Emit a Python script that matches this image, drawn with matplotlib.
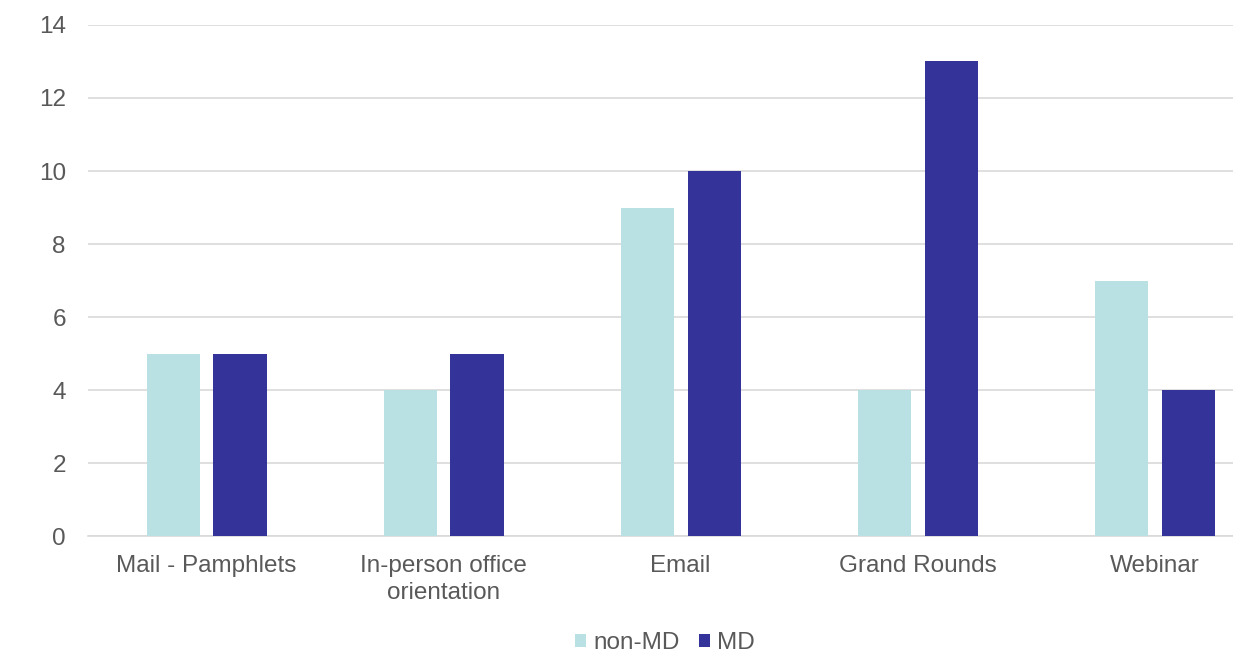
import matplotlib.pyplot as plt
import numpy as np

plt.rcParams['font.family'] = ['Liberation Sans', 'DejaVu Sans']

categories = ['Mail - Pamphlets', 'In-person office\norientation', 'Email', 'Grand Rounds', 'Webinar']
non_md = [5, 4, 9, 4, 7]
md = [5, 5, 10, 13, 4]

text_color = '#595959'
grid_color = '#D9D9D9'
fs = 17.5

fig = plt.figure(figsize=(12.33, 6.57), dpi=100)
ax = fig.add_axes([0.0714, 0.184, 0.9286, 0.778])

x = np.arange(len(categories))
width = 0.224
ax.bar(x - 0.141, non_md, width, color='#B9E0E3', label='non-MD', zorder=3)
ax.bar(x + 0.141, md, width, color='#333399', label='MD', zorder=3)

# chart area runs a little past the right edge of the image
ax.set_xlim(-0.5, 4.33)
ax.set_ylim(0, 14)
ax.set_yticks(range(0, 15, 2))
ax.set_xticks(x)
ax.set_xticklabels(categories, linespacing=1.3)
ax.grid(axis='y', color=grid_color, linewidth=1.2, zorder=0)
for s in ['top', 'right', 'left']:
    ax.spines[s].set_visible(False)
ax.spines['bottom'].set_color(grid_color)
ax.spines['bottom'].set_linewidth(1.2)
ax.tick_params(axis='both', length=0, labelsize=fs, colors=text_color)
ax.tick_params(axis='x', pad=13.5)
ax.tick_params(axis='y', pad=16)

fig.legend(loc='center', bbox_to_anchor=(665 / 1233, 1 - 643 / 657), ncol=2, frameon=False,
           fontsize=fs, labelcolor=text_color, handlelength=0.45, handleheight=0.45,
           handletextpad=0.3, columnspacing=0.8, borderpad=0)

fig.savefig('out.png', dpi=100)
